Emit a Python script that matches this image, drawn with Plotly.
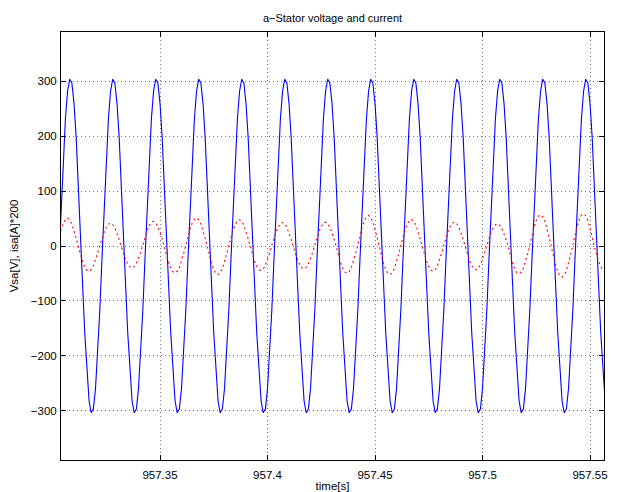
import numpy as np
import plotly.graph_objects as go

# Sampling of the logged signals (1 ms step)
t_start = 957.300
t_step = 0.001

# Phase-a stator voltage Vsa [V], one value per sample
vsa = [
    -260, -198, -117, -24, 71, 159, 232, 282, 304, 297, 260, 198, 117, 24, -71, -159, -232, -282, -304, -297,
    -260, -198, -117, -24, 71, 159, 232, 282, 304, 297, 260, 198, 117, 24, -71, -159, -232, -282, -304, -297,
    -260, -198, -117, -24, 71, 159, 232, 282, 304, 297, 260, 198, 117, 24, -71, -159, -232, -282, -304, -297,
    -260, -198, -117, -24, 71, 159, 232, 282, 304, 297, 260, 198, 117, 24, -71, -159, -232, -282, -304, -297,
    -260, -198, -117, -24, 71, 159, 232, 282, 304, 297, 260, 198, 117, 24, -71, -159, -232, -282, -304, -297,
    -260, -198, -117, -24, 71, 159, 232, 282, 304, 297, 260, 198, 117, 24, -71, -159, -232, -282, -304, -297,
    -260, -198, -117, -24, 71, 159, 232, 282, 304, 297, 260, 198, 117, 24, -71, -159, -232, -282, -304, -297,
    -260, -198, -117, -24, 71, 159, 232, 282, 304, 297, 260, 198, 117, 24, -71, -159, -232, -282, -304, -297,
    -260, -198, -117, -24, 71, 159, 232, 282, 304, 297, 260, 198, 117, 24, -71, -159, -232, -282, -304, -297,
    -260, -198, -117, -24, 71, 159, 232, 282, 304, 297, 260, 198, 117, 24, -71, -159, -232, -282, -304, -297,
    -260, -198, -117, -24, 71, 159, 232, 282, 304, 297, 260, 198, 117, 24, -71, -159, -232, -282, -304, -297,
    -260, -198, -117, -24, 71, 159, 232, 282, 304, 297, 260, 198, 117, 24, -71, -159, -232, -282, -304, -297,
    -260, -198, -117, -24, 71, 159, 232, 282, 304, 297, 260, 198, 117, 24, -71, -159, -232, -282, -304, -297,
    -260,
]

# Phase-a stator current isa [A] scaled by 200
isa_x200 = [
    -25.3, -12.6, 1.6, 17.2, 31.1, 41.9, 48.7, 50.7, 47.7, 40.1, 28.5, 14.1, -1.4, -15.6, -28.2, -38.0, -44.2, -46.0, -43.3, -36.3,
    -25.9, -12.8, 1.3, 14.1, 25.5, 34.4, 39.9, 41.6, 39.1, 32.9, 23.4, 11.6, -1.3, -13.5, -24.5, -33.1, -38.4, -40.0, -37.6, -31.6,
    -22.5, -11.2, 1.4, 15.2, 27.6, 37.2, 43.2, 45.0, 42.3, 35.6, 25.3, 12.6, -1.5, -16.6, -30.0, -40.5, -47.1, -49.0, -46.1, -38.7,
    -27.5, -13.7, 1.6, 17.3, 31.3, 42.2, 49.0, 51.0, 48.0, 40.3, 28.7, 14.2, -1.6, -17.6, -31.9, -43.0, -49.9, -52.0, -48.9, -41.1,
    -29.2, -14.5, 1.5, 16.2, 29.3, 39.5, 45.9, 47.8, 45.0, 37.8, 26.9, 13.3, -1.4, -15.1, -27.4, -37.0, -42.9, -44.7, -42.1, -35.3,
    -25.1, -12.5, 1.3, 14.5, 26.2, 35.4, 41.1, 42.8, 40.3, 33.8, 24.1, 11.9, -1.3, -14.1, -25.5, -34.4, -39.9, -41.6, -39.1, -32.9,
    -23.4, -11.6, 1.4, 14.7, 26.6, 35.9, 41.7, 43.4, 40.8, 34.3, 24.4, 12.1, -1.6, -16.8, -30.4, -41.0, -47.6, -49.6, -46.7, -39.2,
    -27.9, -13.8, 1.7, 18.8, 34.1, 46.0, 53.4, 55.6, 52.3, 43.9, 31.3, 15.5, -1.6, -17.6, -31.9, -43.0, -49.9, -52.0, -48.9, -41.1,
    -29.2, -14.5, 1.5, 16.4, 29.6, 39.9, 46.4, 48.3, 45.4, 38.2, 27.1, 13.5, -1.4, -15.6, -28.2, -38.0, -44.2, -46.0, -43.3, -36.3,
    -25.9, -12.8, 1.4, 14.7, 26.6, 35.9, 41.7, 43.4, 40.8, 34.3, 24.4, 12.1, -1.4, -14.7, -26.7, -36.0, -41.8, -43.5, -40.9, -34.4,
    -24.5, -12.1, 1.3, 13.7, 24.8, 33.5, 38.9, 40.5, 38.1, 32.0, 22.8, 11.3, -1.6, -17.2, -31.1, -42.0, -48.8, -50.8, -47.8, -40.1,
    -28.6, -14.2, 1.8, 19.3, 34.9, 47.1, 54.6, 56.9, 53.5, 45.0, 32.0, 15.9, -1.8, -19.2, -34.8, -47.0, -54.5, -56.8, -53.4, -44.9,
    -31.9, -15.8, 1.8, 19.9, 36.0, 48.5, 56.4, 58.7, 55.2, 46.4, 33.0, 16.4, -1.4, -15.2, -27.6, -37.2, -43.2, -45.0, -42.3, -35.6,
    -25.3,
]

# Axis ticks
x_ticks = [957.35, 957.40, 957.45, 957.50, 957.55]
x_tick_labels = ["957.35", "957.4", "957.45", "957.5", "957.55"]
y_ticks = [-300, -200, -100, 0, 100, 200, 300]
x_limits = [957.30395, 957.5565]
y_limits = [-390, 390]

t = np.round(t_start + t_step * np.arange(len(vsa)), 6)

FONT = "Liberation Sans, Arial, Helvetica, sans-serif"

fig = go.Figure()
fig.add_trace(go.Scatter(
    x=t, y=vsa, mode="lines",
    line=dict(color="#0000ff", width=1.1),
    name="Vsa", showlegend=False,
))
fig.add_trace(go.Scatter(
    x=t, y=isa_x200, mode="lines",
    line=dict(color="#ff0000", width=1.1, dash="2px,3px"),
    name="isa*200", showlegend=False,
))

axis_common = dict(
    showline=True, linecolor="black", linewidth=1, mirror="allticks",
    ticks="inside", ticklen=5, tickcolor="black", tickwidth=1,
    showgrid=True, gridcolor="rgba(0,0,0,0.55)", gridwidth=1, griddash="1px,3px",
    zeroline=False, automargin=False,
    tickfont=dict(family=FONT, size=11.5, color="black"),
)

fig.update_xaxes(
    range=x_limits, tickvals=x_ticks, ticktext=x_tick_labels,
    ticklabelstandoff=4,
    title=dict(text="time[s]", font=dict(family=FONT, size=11.5, color="black"), standoff=2),
    **axis_common,
)
fig.update_yaxes(
    range=y_limits, tickvals=y_ticks,
    ticklabelstandoff=1,
    title=dict(text="Vsa[V], isa[A]*200", font=dict(family=FONT, size=11.5, color="black"), standoff=9),
    **axis_common,
)

fig.update_layout(
    width=619, height=492,
    margin=dict(l=61, r=15, t=32, b=32),
    paper_bgcolor="white", plot_bgcolor="white",
    title=dict(
        text="a\u2212Stator voltage and current",
        font=dict(family=FONT, size=11, color="black"),
        x=(61 + 604) / 2 / 619, xanchor="center",
        y=1 - 18 / 492, yanchor="middle", yref="container",
    ),
)

fig.write_html("out.html", config={"displayModeBar": False})
